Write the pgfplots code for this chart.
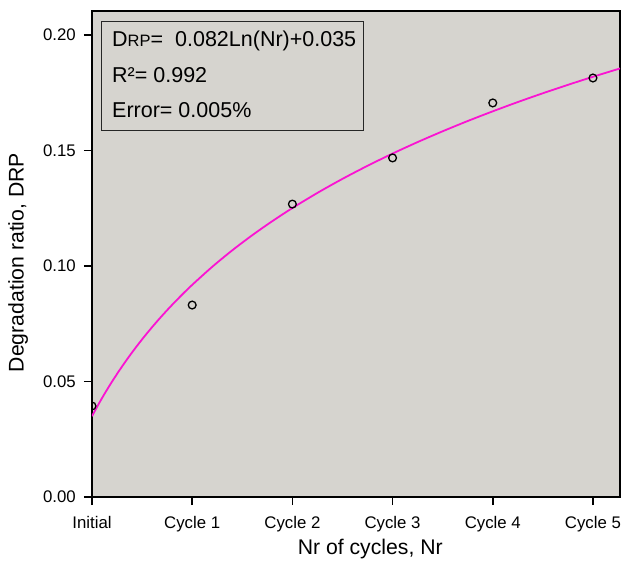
\documentclass[border=0pt]{standalone}
\usepackage{pgfplots}
\pgfplotsset{compat=1.18}
\usepackage{fontspec}
\setmainfont{Liberation Sans}
\definecolor{bggray}{RGB}{214,212,207}
\definecolor{fitmag}{RGB}{250,20,210}
\begin{document}
\begin{tikzpicture}
\useasboundingbox (-92pt,-68pt) rectangle (542pt,497pt);
\begin{axis}[
  anchor=south west, at={(0pt,0pt)},
  scale only axis, width=528pt, height=486pt,
  xmin=0, xmax=5.27, ymin=0, ymax=0.2104,
  axis background/.style={fill=bggray},
  axis line style={line width=1.5pt, black},
  xtick={0,1,2,3,4,5},
  xticklabels={Initial,Cycle 1,Cycle 2,Cycle 3,Cycle 4,Cycle 5},
  ytick={0,0.05,0.10,0.15,0.20},
  /pgf/number format/fixed,
  /pgf/number format/fixed zerofill,
  /pgf/number format/precision=2,
  /pgf/number format/assume math mode=true,
  tick align=outside, xtick pos=bottom, ytick pos=left,
  major tick length=8pt,
  tick style={line width=1.5pt, black},
  tick label style={font=\fontsize{16.8}{19}\selectfont},
  xticklabel style={inner sep=0pt, anchor=north, yshift=-11pt},
  yticklabel style={inner sep=0pt, anchor=east, xshift=-8pt},
  xlabel={Nr of cycles, Nr},
  ylabel={Degradation ratio, DRP},
  label style={font=\fontsize{21.2}{24}\selectfont},
  xlabel style={at={(axis description cs:0.527,-0.119)}, anchor=base},
  ylabel style={at={(axis description cs:-0.140,0.4825)}, anchor=center},
  clip marker paths=true,
]
\addplot[fitmag, line width=1.8pt, smooth, no marks] coordinates {
(0,0.035) (0.1,0.04282) (0.2,0.04995) (0.3,0.05651) (0.4,0.06259)
(0.5,0.06825) (0.6,0.07354) (0.7,0.07851) (0.8,0.08320) (0.9,0.08763)
(1.0,0.09184) (1.2,0.09965) (1.4,0.10679) (1.6,0.11335) (1.8,0.11943)
(2.0,0.12509) (2.25,0.13165) (2.5,0.13773) (2.75,0.14338) (3.0,0.14868)
(3.25,0.15365) (3.5,0.15833) (3.75,0.16277) (4.0,0.16697) (4.25,0.17098)
(4.5,0.17479) (4.75,0.17843) (5.0,0.18192) (5.27,0.18553)
};
\addplot[only marks, mark=o, mark size=3.9pt, mark options={line width=1.3pt, black}] coordinates {
(0,0.0394) (1,0.0831) (2,0.1268) (3,0.1468) (4,0.1706) (5,0.1814)
};
\draw[line width=1pt, black!85] (rel axis cs:0.0189,0.9794) rectangle (rel axis cs:0.515,0.755);
\node[anchor=base west, inner sep=0pt, font=\fontsize{21.5}{24}\selectfont] at (rel axis cs:0.0379,0.926) {D{\fontsize{16.5}{19}\selectfont RP}=\ \ 0.082Ln(Nr)+0.035};
\node[anchor=base west, inner sep=0pt, font=\fontsize{21.5}{24}\selectfont] at (rel axis cs:0.0379,0.852) {R²= 0.992};
\node[anchor=base west, inner sep=0pt, font=\fontsize{21.5}{24}\selectfont] at (rel axis cs:0.0379,0.780) {Error= 0.005\%};
\end{axis}
\end{tikzpicture}
\end{document}
